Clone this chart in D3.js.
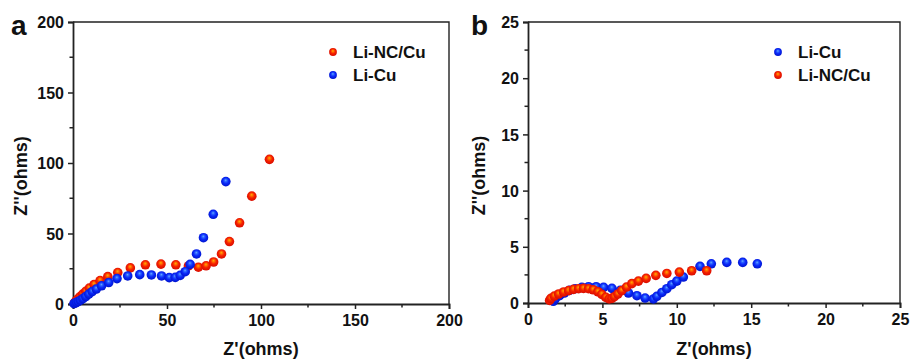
<!DOCTYPE html>
<html>
<head>
<meta charset="utf-8">
<script src="https://cdn.jsdelivr.net/npm/d3@7"></script>
<style>
  html, body { margin: 0; padding: 0; background: #fff; }
  svg { display: block; font-family: "Liberation Sans", Arial, sans-serif; }
</style>
</head>
<body>
<svg id="chart" width="910" height="362"></svg>
<script>
// Nyquist data, panel a: [Z', Z''] in ohms
const aLiNC = [[0.8,0.8],[1.6,2.2],[2.6,3.6],[3.8,5.2],[5.2,7.0],[6.8,9.0],[8.7,11.3],[11.2,13.8],[14.4,16.6],[18.5,19.4],[23.8,22.3],[30.5,25.6],[38.5,27.8],[46.8,28.3],[54.7,27.8],[61.4,27.0],[66.7,26.1],[70.8,27.1],[74.8,29.8],[79.0,35.5],[83.2,44.3],[88.6,57.6],[95.1,76.5],[104.5,102.6]];
const aLiCu = [[0.5,0.3],[1.2,0.7],[2.0,1.2],[2.9,1.8],[4.0,2.7],[5.3,3.8],[6.8,5.3],[8.4,7.0],[10.2,8.8],[12.4,10.6],[15.2,12.9],[19.0,15.2],[23.4,18.0],[29.1,19.9],[35.5,20.8],[41.7,20.6],[47.1,19.9],[51.2,18.7],[54.4,18.9],[57.0,20.3],[59.7,22.9],[62.3,28.1],[65.7,35.5],[69.4,47.0],[74.6,63.6],[81.3,86.8]];

// Nyquist data, panel b
const bLiCu = [[1.7,0.15],[1.83,0.36],[2.12,0.65],[2.44,0.89],[2.79,1.12],[3.17,1.27],[3.62,1.39],[4.07,1.45],[4.58,1.45],[5.08,1.39],[5.64,1.30],[6.2,1.12],[6.75,0.89],[7.32,0.65],[7.87,0.44],[8.43,0.36],[8.66,0.59],[9.0,0.94],[9.33,1.27],[9.66,1.63],[10.0,1.95],[10.44,2.31],[11.56,3.26],[12.32,3.49],[13.36,3.61],[14.43,3.61],[15.41,3.49]];
const bLiNC = [[1.45,0.23],[1.54,0.41],[1.77,0.62],[2.06,0.8],[2.39,0.98],[2.73,1.1],[3.06,1.21],[3.4,1.27],[3.73,1.3],[4.07,1.27],[4.38,1.18],[4.7,1.0],[4.96,0.77],[5.23,0.5],[5.46,0.36],[5.64,0.41],[5.81,0.56],[6.04,0.8],[6.3,1.1],[6.62,1.42],[6.98,1.72],[7.42,1.95],[7.94,2.19],[8.59,2.46],[9.33,2.63],[10.17,2.75],[11.0,2.87],[12.01,2.87]];

// Axis ticks
const aTicks = [0, 50, 100, 150, 200];
const aMinor = [25, 75, 125, 175];
const bTicks = [0, 5, 10, 15, 20, 25];
const bMinor = [2.5, 7.5, 12.5, 17.5, 22.5];

const svg = d3.select("#chart");
svg.append("rect").attr("width", 910).attr("height", 362).attr("fill", "#fff");

// Sphere-like marker gradients
const defs = svg.append("defs");
function sphere(id, stops) {
  const g = defs.append("radialGradient").attr("id", id)
    .attr("cx", "50%").attr("cy", "45%").attr("r", "55%")
    .attr("fx", "48%").attr("fy", "35%");
  stops.forEach(([o, c]) => g.append("stop").attr("offset", o).attr("stop-color", c));
}
sphere("gRed", [["0%", "#ffb000"], ["25%", "#ff6a00"], ["55%", "#f42000"], ["100%", "#d80c00"]]);
sphere("gBlue", [["0%", "#6aaaff"], ["25%", "#2a60ff"], ["55%", "#0a28f8"], ["100%", "#0014cc"]]);

const fill = { red: "url(#gRed)", blue: "url(#gBlue)" };

function panel(cfg) {
  const { left, right, top, bottom, domain, ticks, minor, series, legend, letter, letterX, titleX } = cfg;
  const x = d3.scaleLinear().domain(domain).range([left, right]);
  const y = d3.scaleLinear().domain(domain).range([bottom, top]);
  const g = svg.append("g");

  // frame: top and right borders
  g.append("path")
    .attr("d", `M${left},${top}H${right}V${bottom}`)
    .attr("fill", "none").attr("stroke", "#222").attr("stroke-width", 1.4);

  // bottom axis
  const xa = g.append("g").attr("transform", `translate(0,${bottom})`)
    .call(d3.axisBottom(x).tickValues(ticks).tickSize(5).tickPadding(4).tickFormat(d3.format("d")));
  xa.append("g").selectAll("line").data(minor).join("line")
    .attr("x1", d => x(d)).attr("x2", d => x(d)).attr("y1", 0).attr("y2", 3.5)
    .attr("stroke", "#222").attr("stroke-width", 1.5);

  // left axis
  const ya = g.append("g").attr("transform", `translate(${left},0)`)
    .call(d3.axisLeft(y).tickValues(ticks).tickSize(5).tickPadding(4).tickFormat(d3.format("d")));
  ya.append("g").selectAll("line").data(minor).join("line")
    .attr("y1", d => y(d)).attr("y2", d => y(d)).attr("x1", 0).attr("x2", -3.5)
    .attr("stroke", "#222").attr("stroke-width", 1.5);

  [xa, ya].forEach(a => {
    a.select(".domain").attr("stroke", "#222").attr("stroke-width", 1.8);
    a.selectAll(".tick line").attr("stroke", "#222").attr("stroke-width", 1.5);
    a.selectAll(".tick text").attr("fill", "#111").attr("font-size", 16)
      .attr("font-weight", "bold").attr("font-family", "Liberation Sans, Arial, sans-serif");
  });
  xa.selectAll(".tick text").attr("dy", "0.8em");
  ya.selectAll(".tick text").attr("dy", "0.36em");

  // data points
  series.forEach(s => {
    g.append("g").selectAll("circle").data(s.data).join("circle")
      .attr("cx", d => x(d[0])).attr("cy", d => y(d[1]))
      .attr("r", 4.8).attr("fill", fill[s.color]);
  });

  // legend
  const lg = g.append("g");
  legend.forEach((s, i) => {
    const ly = 52 + i * 23;
    lg.append("circle").attr("cx", cfg.legendX).attr("cy", ly).attr("r", 3.9).attr("fill", fill[s.color]);
    lg.append("text").attr("x", cfg.legendX + 20).attr("y", ly + 6)
      .attr("font-size", 17).attr("font-weight", "bold").attr("fill", "#111").text(s.name);
  });

  // axis titles
  g.append("text").attr("x", titleX).attr("y", 355).attr("text-anchor", "middle")
    .attr("font-size", 18).attr("font-weight", "bold").attr("fill", "#111").text("Z'(ohms)");
  g.append("text").attr("transform", `translate(${cfg.yTitleX},${(top + bottom) / 2 + 13}) rotate(-90)`)
    .attr("text-anchor", "middle").attr("font-size", 18).attr("font-weight", "bold").attr("fill", "#111").text("Z''(ohms)");

  // panel letter
  g.append("text").attr("x", letterX).attr("y", 35).attr("font-size", 28)
    .attr("font-weight", "bold").attr("fill", "#111").text(letter);
}

panel({
  left: 73, right: 449, top: 22, bottom: 304, domain: [0, 200],
  ticks: aTicks, minor: aMinor,
  series: [{ data: aLiNC, color: "red" }, { data: aLiCu, color: "blue" }],
  legend: [{ name: "Li-NC/Cu", color: "red" }, { name: "Li-Cu", color: "blue" }],
  legendX: 333, letter: "a", letterX: 11, titleX: 261, yTitleX: 27
});

panel({
  left: 528, right: 900, top: 22, bottom: 303, domain: [0, 25],
  ticks: bTicks, minor: bMinor,
  series: [{ data: bLiCu, color: "blue" }, { data: bLiNC, color: "red" }],
  legend: [{ name: "Li-Cu", color: "blue" }, { name: "Li-NC/Cu", color: "red" }],
  legendX: 778, letter: "b", letterX: 471, titleX: 714, yTitleX: 485
});
</script>
</body>
</html>
